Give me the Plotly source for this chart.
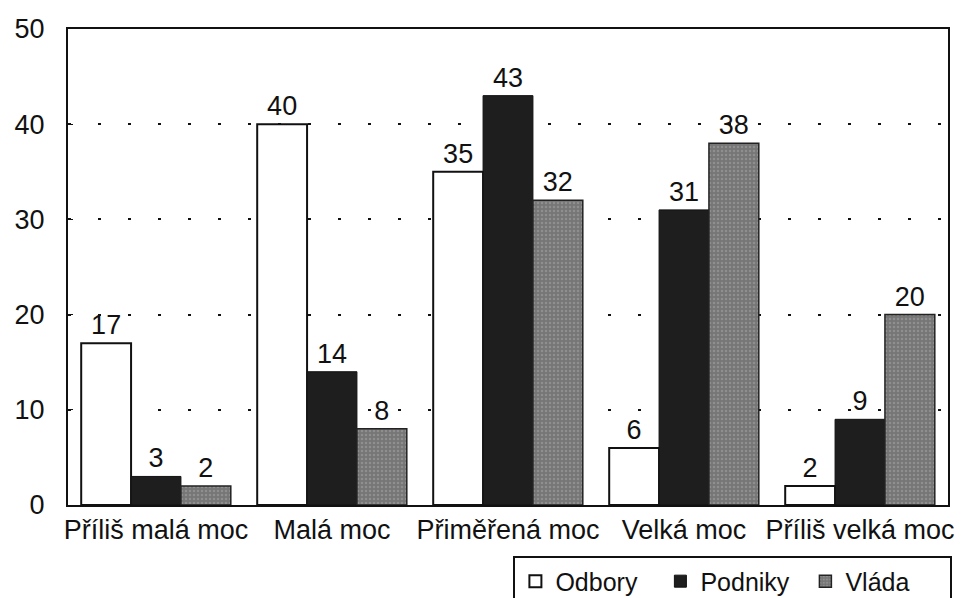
import plotly.graph_objects as go

categories = ["Příliš malá moc", "Malá moc", "Přiměřená moc", "Velká moc", "Příliš velká moc"]
odbory = [17, 40, 35, 6, 2]
podniky = [3, 14, 43, 31, 9]
vlada = [2, 8, 32, 38, 20]
series_names = ["Odbory", "Podniky", "Vláda"]

FONT = "Arial, Liberation Sans, sans-serif"
LBL = 27

fig = go.Figure()
fig.add_trace(go.Bar(
    x=categories, y=odbory, name=series_names[0],
    marker=dict(color="white", line=dict(color="#111", width=2)),
    text=odbory, textposition="outside", cliponaxis=False, constraintext="none",
    textfont=dict(size=LBL, color="#111", family=FONT),
))
fig.add_trace(go.Bar(
    x=categories, y=podniky, name=series_names[1],
    marker=dict(color="#1e1e1e", line=dict(color="#111", width=1)),
    text=podniky, textposition="outside", cliponaxis=False, constraintext="none",
    textfont=dict(size=LBL, color="#111", family=FONT),
))
fig.add_trace(go.Bar(
    x=categories, y=vlada, name=series_names[2],
    marker=dict(color="#7e7e7e", line=dict(color="#222", width=1.5),
                pattern=dict(shape=".", fgcolor="#a8a8a8", bgcolor="#767676", size=4, solidity=0.3)),
    text=vlada, textposition="outside", cliponaxis=False, constraintext="none",
    textfont=dict(size=LBL, color="#111", family=FONT),
))

# page body has an 8px margin, so the figure is 960x590 drawn at (8, 8)
fig.update_layout(
    width=960, height=590,
    margin=dict(l=60, r=20, t=21, b=93, autoexpand=False),
    paper_bgcolor="white", plot_bgcolor="white",
    barmode="group", bargap=0.15, bargroupgap=0,
    font=dict(family=FONT, size=27, color="#111"),
    showlegend=True,
    legend=dict(orientation="h", x=1.005, xanchor="right", y=-0.108, yanchor="top",
                bordercolor="#111", borderwidth=2, font=dict(size=25),
                itemwidth=30, tracegroupgap=0, entrywidth=100, entrywidthmode="pixels"),
)
fig.update_xaxes(
    showline=True, linecolor="#111", linewidth=2, mirror=True,
    ticks="", tickfont=dict(size=27), showgrid=False, tickangle=0,
)
fig.update_yaxes(
    range=[0, 50], dtick=10, showline=True, linecolor="#111", linewidth=2, mirror=True,
    ticks="inside", ticklen=5, tickcolor="#111", tickwidth=1,
    showgrid=True, gridcolor="#111", gridwidth=2, griddash="3px,27px",
    tickfont=dict(size=27), zeroline=False, ticklabelstandoff=16,
)

fig.write_html("out.html")
